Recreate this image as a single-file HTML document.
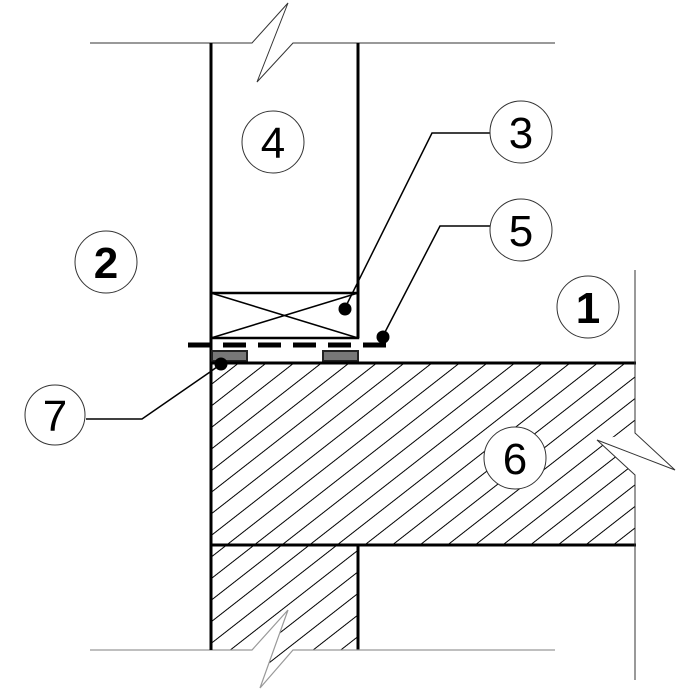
<!DOCTYPE html>
<html><head><style>body{margin:0;background:#fff}svg{display:block}text{font-family:"Liberation Sans",sans-serif;text-anchor:middle}</style></head><body>
<svg width="694" height="692" viewBox="0 0 694 692" xmlns="http://www.w3.org/2000/svg">
<defs>
<pattern id="h" patternUnits="userSpaceOnUse" width="40" height="17" patternTransform="rotate(-38)">
<line x1="0" y1="8" x2="40" y2="8" stroke="#000" stroke-width="1.1"/>
</pattern>
<clipPath id="lw"><polygon points="211,545 358,545 358,650 293,650 260,688 288,610 252,650 211,650"/></clipPath>
<clipPath id="sl"><polygon points="211,363 635,363 635,433 597,440 635,475 635,545 211,545"/></clipPath>
</defs>
<polyline points="90,43 252,43 288,3 257,82 293,43 555,43" fill="none" stroke="#333" stroke-width="1"/>
<line x1="211" y1="43" x2="211" y2="650" stroke="#000" stroke-width="3"/>
<line x1="358" y1="43" x2="358" y2="338" stroke="#000" stroke-width="3"/>
<rect x="211" y="293" width="147" height="45" fill="none" stroke="#000" stroke-width="2.5"/>
<line x1="211" y1="293" x2="358" y2="338" stroke="#000" stroke-width="1.5"/>
<line x1="211" y1="338" x2="358" y2="293" stroke="#000" stroke-width="1.5"/>
<line x1="188" y1="345" x2="392" y2="345" stroke="#000" stroke-width="5" stroke-dasharray="23,12"/>
<rect x="212" y="351" width="35" height="10" fill="#777" stroke="#222" stroke-width="2"/>
<rect x="323" y="351" width="35" height="10" fill="#777" stroke="#222" stroke-width="2"/>
<rect x="211" y="363" width="424" height="182" fill="url(#h)" clip-path="url(#sl)"/>
<line x1="211" y1="363" x2="636" y2="363" stroke="#000" stroke-width="3"/>
<line x1="211" y1="545" x2="636" y2="545" stroke="#000" stroke-width="3"/>
<polyline points="635,270 635,433 675,470 597,440 635,475 635,680" fill="none" stroke="#333" stroke-width="1"/>
<rect x="211" y="545" width="147" height="143" fill="url(#h)" clip-path="url(#lw)"/>
<line x1="358" y1="545" x2="358" y2="650" stroke="#000" stroke-width="3"/>
<polyline points="90,650 252,650 288,610 260,688 293,650 555,650" fill="none" stroke="#999" stroke-width="1.2"/>
<line x1="211" y1="545" x2="211" y2="650" stroke="#000" stroke-width="3"/>
<polyline points="490,133 432,133 345,308" fill="none" stroke="#000" stroke-width="1.5"/>
<circle cx="345" cy="309" r="6.5"/>
<polyline points="490,226 440,226 383,336" fill="none" stroke="#000" stroke-width="1.5"/>
<circle cx="383" cy="337" r="6.5"/>
<polyline points="86,419 142,419 210,372 221,364" fill="none" stroke="#000" stroke-width="1.5"/>
<circle cx="221" cy="364" r="6.5"/>
<g fill="#fff" stroke="#333" stroke-width="1">
<circle cx="273" cy="142" r="31"/>
<circle cx="521" cy="132" r="31"/>
<circle cx="521" cy="230" r="31"/>
<circle cx="106" cy="262" r="31"/>
<circle cx="588" cy="307" r="31"/>
<circle cx="515" cy="458" r="31"/>
<circle cx="55" cy="415" r="30"/>
</g>
<g font-size="44" fill="#000">
<text x="273" y="158">4</text>
<text x="521" y="148">3</text>
<text x="521" y="246">5</text>
<text x="515" y="474">6</text>
<text x="55" y="431">7</text>
<text x="106" y="278" font-weight="bold">2</text>
<text x="588" y="323" font-weight="bold">1</text>
</g>
</svg>
</body></html>
